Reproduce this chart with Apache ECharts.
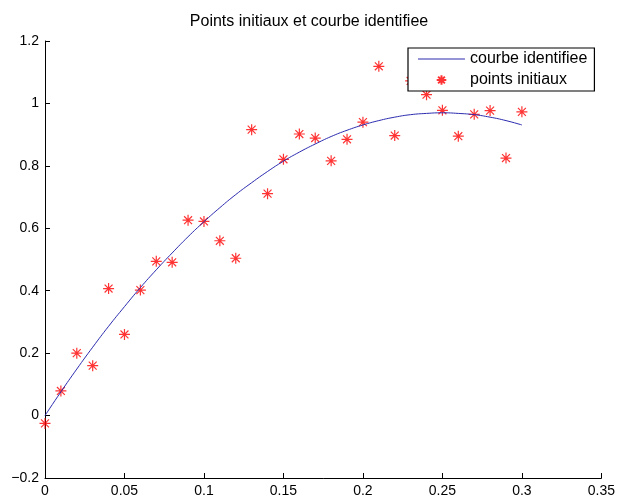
<!DOCTYPE html>
<html>
<head>
<meta charset="utf-8">
<script src="https://cdn.jsdelivr.net/npm/echarts@6/dist/echarts.min.js"></script>
<style>html,body{margin:0;padding:0;background:#fff}#c{width:618px;height:498px}</style>
</head>
<body>
<div id="c"></div>
<script>
var xs = [0,0.01,0.02,0.03,0.04,0.05,0.06,0.07,0.08,0.09,0.10,0.11,0.12,0.13,0.14,0.15,0.16,0.17,0.18,0.19,0.20,0.21,0.22,0.23,0.24,0.25,0.26,0.27,0.28,0.29,0.30];
var pointsInitiaux = [-0.025,0.079,0.200,0.160,0.407,0.260,0.402,0.494,0.491,0.626,0.622,0.560,0.504,0.916,0.711,0.821,0.902,0.889,0.816,0.885,0.940,1.119,0.897,1.072,1.028,0.978,0.895,0.965,0.977,0.825,0.973];
var courbeIdentifiee = [0.000,0.076,0.149,0.219,0.286,0.349,0.410,0.467,0.521,0.573,0.621,0.666,0.708,0.746,0.782,0.815,0.844,0.870,0.894,0.914,0.931,0.945,0.956,0.964,0.968,0.970,0.968,0.964,0.956,0.945,0.931];
var xTicks = {min:0, max:0.35, interval:0.05};
var yTicks = {min:-0.2, max:1.2, interval:0.2};

var star = 'path://M0,-5 L0,5 M-5,0 L5,0 M-3.6,-3.6 L3.6,3.6 M-3.6,3.6 L3.6,-3.6';
var lineIcon = 'path://M0,0 L0.01,0 M0,5.5 L47,5.5 L47,6.5 L0,6.5 Z M47,12 L47.01,12';
var starIcon = 'path://M0,0 L0.01,0 M47,12 L47.01,12 M23.5,1.2 L23.5,10.8 M18.7,6 L28.3,6 M20.1,2.6 L26.9,9.4 M20.1,9.4 L26.9,2.6';
function fmt(v){ var s = String(+v.toFixed(2)); return s.replace('-', '\u2212'); }
var font = '"Liberation Sans", Arial, Helvetica, sans-serif';

var chart = echarts.init(document.getElementById('c'), null, {renderer:'canvas'});
chart.setOption({
  animation: false,
  backgroundColor: '#fff',
  title: {
    text: 'Points initiaux et courbe identifiee',
    left: 'center', top: 9,
    textStyle: {fontFamily: font, fontSize: 16, fontWeight: 'normal', color: '#000'}
  },
  legend: {
    orient: 'vertical',
    left: 408, top: 48,
    padding: [3, 7, 3, 9],
    borderColor: '#000', borderWidth: 1.2,
    backgroundColor: '#fff',
    itemWidth: 47, itemHeight: 12, itemGap: 5,
    textStyle: {fontFamily: font, fontSize: 16, color: '#000'},
    data: [
      {name: 'courbe identifiee', icon: lineIcon},
      {name: 'points initiaux', icon: starIcon}
    ]
  },
  grid: {left: 45, right: 16, top: 41, bottom: 20, containLabel: false},
  xAxis: {
    type: 'value', min: xTicks.min, max: xTicks.max, interval: xTicks.interval,
    axisLine: {show: true, onZero: false, lineStyle: {color: '#000', width: 1}},
    axisTick: {show: true, inside: true, length: 5, lineStyle: {color: '#000'}},
    axisLabel: {formatter: fmt, color: '#000', fontFamily: font, fontSize: 14, margin: 6},
    splitLine: {show: false}
  },
  yAxis: {
    type: 'value', min: yTicks.min, max: yTicks.max, interval: yTicks.interval,
    axisLine: {show: true, onZero: false, lineStyle: {color: '#000', width: 1}},
    axisTick: {show: true, inside: true, length: 5, lineStyle: {color: '#000'}},
    axisLabel: {formatter: fmt, color: '#000', fontFamily: font, fontSize: 14, margin: 6},
    splitLine: {show: false}
  },
  series: [
    {
      name: 'courbe identifiee', type: 'line', smooth: true,
      symbol: 'none', showSymbol: false,
      lineStyle: {color: '#2b2bb0', width: 1},
      itemStyle: {color: '#2b2bb0'},
      data: xs.map(function(x, i){ return [x, courbeIdentifiee[i]]; })
    },
    {
      name: 'points initiaux', type: 'scatter',
      symbol: star, symbolSize: 11,
      itemStyle: {color: 'rgba(0,0,0,0)', borderColor: '#ff0000', borderWidth: 1.2},
      data: xs.map(function(x, i){ return [x, pointsInitiaux[i]]; })
    }
  ]
});
</script>
</body>
</html>
